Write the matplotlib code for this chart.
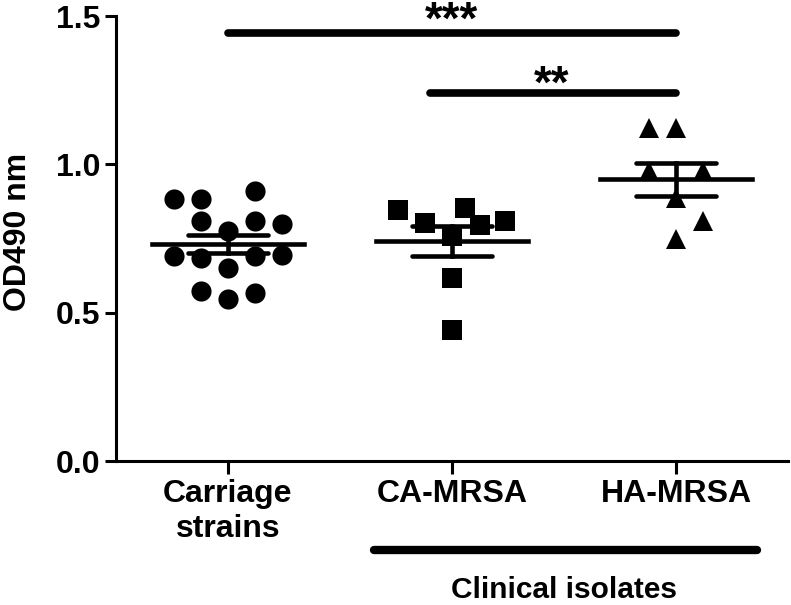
import numpy as np
import matplotlib
matplotlib.use('Agg')
import matplotlib.pyplot as plt

plt.rcParams['font.family'] = ['Liberation Sans', 'DejaVu Sans']
plt.rcParams['font.weight'] = 'bold'

# data (OD490)
groups = ['Carriage\nstrains', 'CA-MRSA', 'HA-MRSA']
carriage = [0.882, 0.884, 0.910, 0.808, 0.808, 0.800, 0.775, 0.690,
            0.685, 0.690, 0.696, 0.651, 0.572, 0.546, 0.566]
ca_mrsa = [0.846, 0.803, 0.854, 0.797, 0.808, 0.758, 0.617, 0.443]
ha_mrsa = [1.124, 1.124, 0.977, 0.977, 0.887, 0.808, 0.747]

# horizontal spread of the column scatter
carriage_dx = [-0.24, -0.12, 0.12, -0.12, 0.12, 0.24, 0, -0.24,
               -0.12, 0.12, 0.24, 0, -0.12, 0, 0.12]
ca_dx = [-0.24, -0.12, 0.06, 0.125, 0.235, 0, 0, 0]
ha_dx = [-0.12, 0, -0.12, 0.12, 0, 0.12, 0]

sig_labels = ['***', '**']

fig = plt.figure(figsize=(7.91, 6.05), dpi=100)
ax = fig.add_axes([0.1466, 0.238, 0.8496, 0.7355])

data = [carriage, ca_mrsa, ha_mrsa]
offsets = [carriage_dx, ca_dx, ha_dx]
markers = ['o', 's', '^']
sizes = [14.5, 15, 14]

for i, (vals, dx, m, ms) in enumerate(zip(data, offsets, markers, sizes)):
    x = i + 1
    vals = np.array(vals)
    ax.plot(x + np.array(dx), vals, m, color='black', markersize=ms,
            markeredgewidth=0, clip_on=False, zorder=3)
    mean = vals.mean()
    sem = vals.std(ddof=1) / np.sqrt(len(vals))
    ax.plot([x - 0.34, x + 0.34], [mean, mean], color='black', lw=3.3, zorder=4)
    ax.plot([x, x], [mean - sem, mean + sem], color='black', lw=3.3, zorder=4)
    for yy in (mean - sem, mean + sem):
        ax.plot([x - 0.18, x + 0.18], [yy, yy], color='black', lw=3.3,
                solid_capstyle='round', zorder=4)

# significance bars
ax.plot([1, 3], [1.443, 1.443], color='black', lw=5.5, solid_capstyle='round', clip_on=False)
ax.plot([1.9, 3], [1.24, 1.24], color='black', lw=5.5, solid_capstyle='round', clip_on=False)
ax.text(2.0, 1.441, sig_labels[0], ha='center', va='baseline', fontsize=33,
        fontweight='bold', clip_on=False)
ax.text(2.445, 1.225, sig_labels[1], ha='center', va='baseline', fontsize=33,
        fontweight='bold', clip_on=False)

# clinical isolates bracket below the axis
ax.plot([1.65, 3.36], [-0.30, -0.30], color='black', lw=6, solid_capstyle='round', clip_on=False)
ax.text(2.5, -0.435, 'Clinical isolates', ha='center', va='center', fontsize=21.5,
        fontweight='bold', clip_on=False)

ax.set_xlim(0.5, 3.5)
ax.set_ylim(0, 1.5)
ax.set_yticks([0, 0.5, 1.0, 1.5])
ax.set_yticklabels(['0.0', '0.5', '1.0', '1.5'])
ax.set_xticks([1, 2, 3])
ax.set_xticklabels(groups, linespacing=1.22)
ax.tick_params(axis='both', width=2.2, length=8, labelsize=23, pad=3)
ax.tick_params(axis='x', length=9, pad=4)
for s in ['top', 'right']:
    ax.spines[s].set_visible(False)
for s in ['left', 'bottom']:
    ax.spines[s].set_linewidth(2.2)

fig.text(18 / 791, 0.6165, 'OD490 nm', rotation=90, ha='center', va='center',
         fontsize=23, fontweight='bold')

fig.savefig('out.png', dpi=100)
